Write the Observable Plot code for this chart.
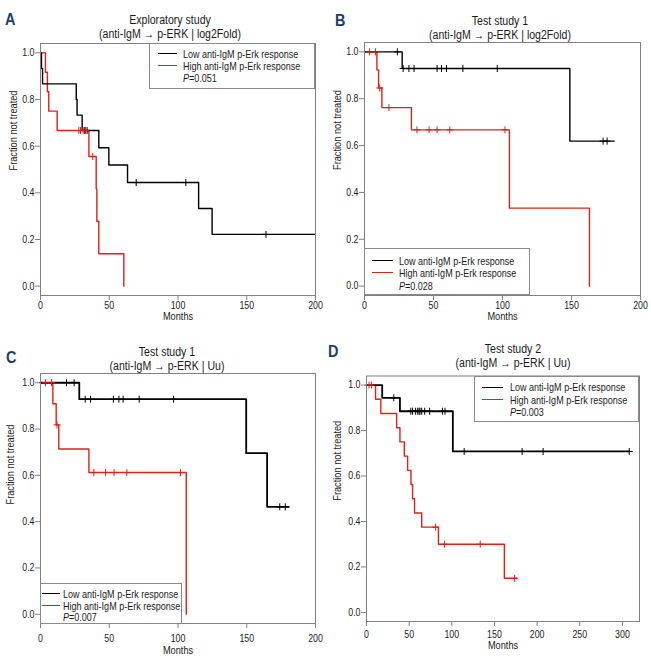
<!DOCTYPE html>
<html><head><meta charset="utf-8">
<script src="https://cdn.jsdelivr.net/npm/d3@7"></script>
<script src="https://cdn.jsdelivr.net/npm/@observablehq/plot@0.6"></script>
<style>
body{margin:0;background:#fff;}
#fig{position:relative;width:651px;height:665px;overflow:hidden;font-family:"Liberation Sans",Arial,sans-serif;color:#1a1a1a;}
.panel{position:absolute;}
.letter{position:absolute;font-weight:bold;font-size:17px;line-height:17px;color:#1d3d6b;transform:scaleX(0.85);transform-origin:left top;}
.title{position:absolute;font-size:12px;line-height:10px;height:10px;white-space:nowrap;transform:translate(-50%,-50%) scaleX(0.88);}
.legend{position:absolute;border:1px solid #8a8a8a;background:#fff;box-sizing:border-box;}
.row{position:absolute;white-space:nowrap;font-size:11px;line-height:10px;transform:translateY(-50%) scaleX(0.82);transform-origin:left center;}
.sw{position:absolute;height:0;}
</style></head><body><div id="fig"></div><script>
// ---------------- data ----------------
const groups = ["Low anti-IgM p-Erk response", "High anti-IgM p-Erk response"];
const xTicks200 = [0, 50, 100, 150, 200];
const xTicks300 = [0, 50, 100, 150, 200, 250, 300];
const yTicks = [0, 0.2, 0.4, 0.6, 0.8, 1.0];

// Panel A: Exploratory study (log2Fold)
const aLowT  = [0, 0.7, 1.5, 26, 26.6, 30.3, 42.4, 49.7, 63.3, 115, 124.8, 200];
const aLowS  = [1, 0.933, 0.867, 0.8, 0.733, 0.667, 0.593, 0.519, 0.444, 0.333, 0.222, 0.222];
const aLowC  = [32.2, 33.9, 69.6, 105.7, 164];
const aHighT = [0, 3.6, 5, 6, 12.1, 35.2, 40.5, 41, 42.4, 60.6];
const aHighS = [1, 0.917, 0.833, 0.75, 0.667, 0.556, 0.417, 0.278, 0.139, 0];
const aHighC = [27.9, 29.1, 31, 32.7, 38];
// Panel B: Test study 1 (log2Fold)
const bLowT  = [0, 27.3, 148.8, 181];
const bLowS  = [1, 0.929, 0.619, 0.619];
const bLowC  = [23.8, 28, 32.2, 35.9, 52.6, 55.8, 59.4, 71.3, 96.2, 172.9, 175.8];
const bHighT = [0, 9, 10.2, 12.6, 34, 105, 163];
const bHighS = [1, 0.923, 0.846, 0.762, 0.667, 0.333, 0];
const bHighC = [3.6, 8, 11, 17.7, 38, 46.8, 52.6, 61.8, 101.8];
// Panel C: Test study 1 (Uu)
const cLowT  = [0, 28.2, 149.6, 164.8, 180.6];
const cLowS  = [1, 0.929, 0.696, 0.464, 0.464];
const cLowC  = [18.9, 24.5, 32.5, 36.4, 53, 57, 60.1, 71.8, 96.8, 174, 178];
const cHighT = [0, 9, 11.4, 13.3, 35.2, 106];
const cHighS = [1, 0.909, 0.818, 0.714, 0.612, 0];
const cHighC = [3.6, 8, 12, 38.8, 47.3, 53.5, 62.8, 101.8];
// Panel D: Test study 2 (Uu)
const dLowT  = [0, 18.4, 39.2, 101.2, 308];
const dLowS  = [1, 0.944, 0.885, 0.708, 0.708];
const dLowC  = [32, 52, 54, 57.6, 60, 61.6, 62.7, 64.7, 68.2, 74, 89, 92, 114.5, 182.4, 207, 308];
const dHighT = [0, 10.6, 16.8, 35.3, 39.2, 44.3, 48.2, 52.1, 54, 56.3, 64.7, 84.3, 161.6, 176.5];
const dHighS = [1, 0.9375, 0.875, 0.8125, 0.75, 0.6875, 0.625, 0.5625, 0.5, 0.4375, 0.375, 0.3, 0.15, 0.15];
const dHighC = [3, 6, 81, 91.4, 133.3, 173.7];

const pValues = ["0.051", "0.028", "0.007", "0.003"];
const titles = [
  ["Exploratory study", "(anti-IgM \u2192 p-ERK | log2Fold)"],
  ["Test study 1", "(anti-IgM \u2192 p-ERK | log2Fold)"],
  ["Test study 1", "(anti-IgM \u2192 p-ERK | Uu)"],
  ["Test study 2", "(anti-IgM \u2192 p-ERK | Uu)"]
];
const letters = ["A", "B", "C", "D"];

// ---------------- drawing ----------------
const RED = "#dc2219";
const GRID = "#808080";
const fig = document.getElementById("fig");
const FONT = '"Liberation Sans",Arial,sans-serif';
const SQUEEZE = 0.84;

function curve(T, S, g) { return T.map((t, i) => ({t, s: S[i], g})); }
function cens(T, S, C, g) { return C.map(c => ({t: c, s: S[Math.max(0, d3.bisectRight(T, c) - 1)], g})); }

const layout = [
  {left: 0,   top: 0,   w: 325, h: 330, m: [43, 10, 35, 40], xd: [0, 200], xt: xTicks200, pad: 1, monthsDy: 24, ylabDx: -27, ylabDy: 1, lw: 1.4,
   low: [aLowT, aLowS, aLowC], high: [aHighT, aHighS, aHighC],
   title: {x: 170, y1: 19.5, y2: 33.5}, letter: {x: 5, y: 11},
   legend: {x: 149, y: 43, w: 166, h: 46, sx: 158, sw: 19, tx: 183, r: [54, 66, 78]}},
  {left: 325, top: 0,   w: 326, h: 330, m: [42, 11, 35, 39], xd: [0, 200], xt: xTicks200, pad: 1, monthsDy: 24, ylabDx: -27, ylabDy: 1, lw: 1.4,
   low: [bLowT, bLowS, bLowC], high: [bHighT, bHighS, bHighC],
   title: {x: 500, y1: 21, y2: 35}, letter: {x: 335, y: 12},
   legend: {x: 364, y: 248, w: 166, h: 47, sx: 372, sw: 21, tx: 399, r: [260.5, 273, 286]}},
  {left: 0,   top: 330, w: 325, h: 335, m: [43, 10, 42, 40], xd: [0, 200], xt: xTicks200, pad: 6, monthsDy: 30, ylabDx: -30, ylabDy: 6, lw: 1.8,
   low: [cLowT, cLowS, cLowC], high: [cHighT, cHighS, cHighC],
   title: {x: 167, y1: 352, y2: 366}, letter: {x: 6, y: 349},
   legend: {x: 40, y: 583, w: 142, h: 40.5, sx: 42, sw: 18, tx: 63, r: [594, 606, 617]}},
  {left: 325, top: 330, w: 326, h: 335, m: [45.5, 12, 44, 41], xd: [0, 320], xt: xTicks300, pad: 4, monthsDy: 27, ylabDx: -29, ylabDy: 2, lw: 1.8,
   low: [dLowT, dLowS, dLowC], high: [dHighT, dHighS, dHighC],
   title: {x: 513, y1: 349, y2: 363}, letter: {x: 328, y: 343},
   legend: {x: 474, y: 375.5, w: 165, h: 46, sx: 482, sw: 21, tx: 510, r: [387.3, 400, 411.5]}}
];

function squeeze(svg, s) {
  svg.querySelectorAll("text").forEach(t => {
    const x = +t.getAttribute("x") || 0, y = +t.getAttribute("y") || 0;
    const tr = t.getAttribute("transform") || "";
    t.setAttribute("transform", `${tr} translate(${x},${y}) scale(${s},1) translate(${-x},${-y})`);
  });
}

layout.forEach((L, k) => {
  const lines = [...curve(L.low[0], L.low[1], groups[0]), ...curve(L.high[0], L.high[1], groups[1])];
  const marks = [...cens(L.low[0], L.low[1], L.low[2], groups[0]), ...cens(L.high[0], L.high[1], L.high[2], groups[1])];
  const [mt, mr, mb, ml] = L.m;
  const svg = Plot.plot({
    width: L.w, height: L.h,
    marginTop: mt, marginRight: mr, marginBottom: mb, marginLeft: ml,
    style: {fontFamily: FONT, fontSize: "10px", color: "#1a1a1a", background: "transparent"},
    x: {domain: L.xd},
    y: {domain: [-0.04, 1.04]},
    color: {domain: groups, range: ["#000000", RED]},
    marks: [
      Plot.axisX({ticks: L.xt, tickSize: 5, tickPadding: L.pad, stroke: GRID, label: null, fontSize: 10.5, tickFormat: d3.format("d")}),
      Plot.axisY({ticks: yTicks, tickSize: 5, tickPadding: 1, stroke: GRID, label: null, fontSize: 10.5, tickFormat: d3.format(".1f")}),
      Plot.line(lines.filter(d => d.g === groups[1]), {x: "t", y: "s", stroke: "g", curve: "step-after", strokeWidth: 1.4}),
      Plot.line(lines.filter(d => d.g === groups[0]), {x: "t", y: "s", stroke: "g", curve: "step-after", strokeWidth: L.lw}),
      Plot.dot(marks, {x: "t", y: "s", stroke: "g", symbol: "plus", r: 2.4, strokeWidth: 1}),
      Plot.frame({stroke: GRID, strokeWidth: 1}),
      Plot.text(["Months"], {frameAnchor: "bottom", dy: L.monthsDy, fontSize: 11, fill: "#1a1a1a"}),
      Plot.text(["Fraction not treated"], {frameAnchor: "left", rotate: -90, dx: L.ylabDx, dy: L.ylabDy, fontSize: 11, fill: "#1a1a1a"})
    ]
  });
  squeeze(svg, SQUEEZE);
  svg.classList.add("panel");
  svg.style.left = L.left + "px";
  svg.style.top = L.top + "px";
  fig.appendChild(svg);

  // titles
  titles[k].forEach((t, j) => {
    const d = document.createElement("div");
    d.className = "title";
    d.textContent = t;
    d.style.left = L.title.x + "px";
    d.style.top = (j === 0 ? L.title.y1 : L.title.y2) + "px";
    fig.appendChild(d);
  });
  // panel letter
  const le = document.createElement("div");
  le.className = "letter";
  le.textContent = letters[k];
  le.style.left = L.letter.x + "px";
  le.style.top = L.letter.y + "px";
  fig.appendChild(le);

  // legend
  const G = L.legend;
  const box = document.createElement("div");
  box.className = "legend";
  box.style.left = G.x + "px"; box.style.top = G.y + "px";
  box.style.width = G.w + "px"; box.style.height = G.h + "px";
  fig.appendChild(box);
  [["#000000", groups[0]], [RED, groups[1]]].forEach(([c, label], j) => {
    const sw = document.createElement("div");
    sw.className = "sw";
    sw.style.left = G.sx + "px"; sw.style.width = G.sw + "px";
    sw.style.top = (G.r[j] - 0.75) + "px";
    sw.style.borderTop = "1.5px solid " + c;
    fig.appendChild(sw);
    const r = document.createElement("div");
    r.className = "row";
    r.textContent = label;
    r.style.left = G.tx + "px"; r.style.top = G.r[j] + "px";
    fig.appendChild(r);
  });
  const p = document.createElement("div");
  p.className = "row";
  p.innerHTML = "<i>P</i>=" + pValues[k];
  p.style.left = G.tx + "px"; p.style.top = G.r[2] + "px";
  fig.appendChild(p);
});
</script></body></html>
